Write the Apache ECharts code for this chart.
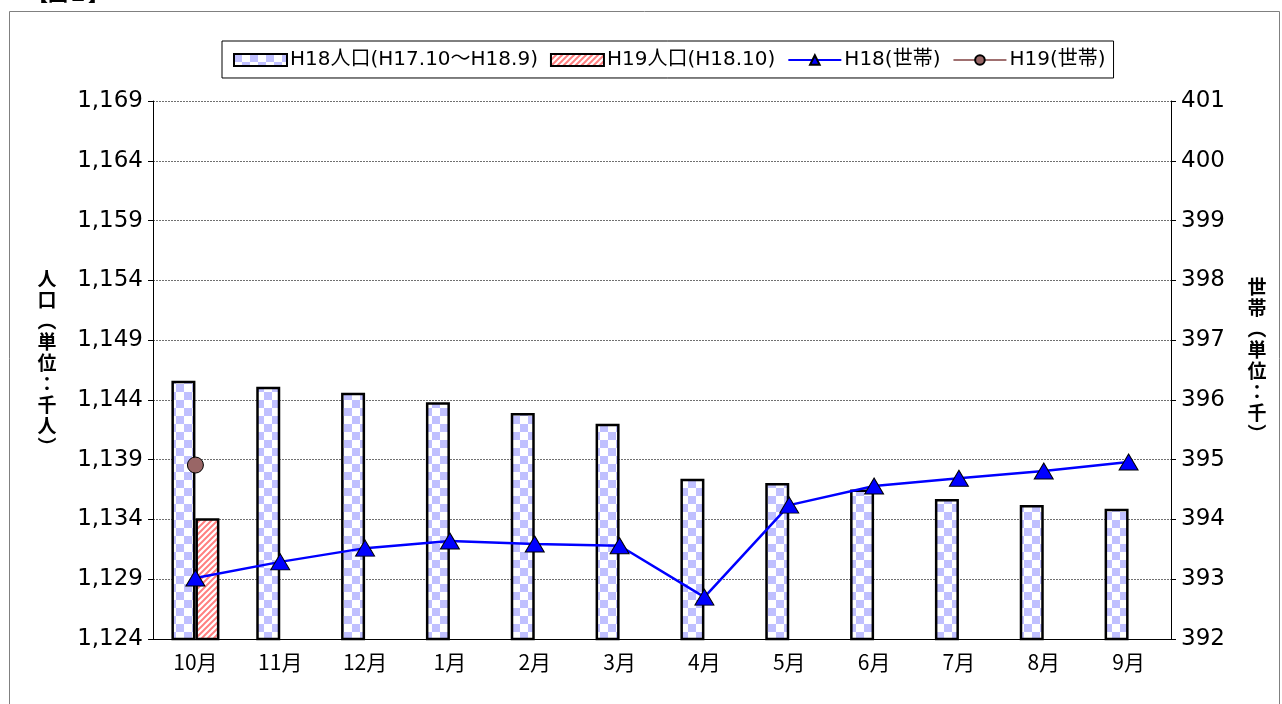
<!DOCTYPE html>
<html>
<head>
<meta charset="utf-8">
<script src="https://cdn.jsdelivr.net/npm/echarts@6/dist/echarts.min.js"></script>
<style>
html,body{margin:0;padding:0;background:#fff;}
#main{width:1282px;height:704px;}
</style>
</head>
<body>
<div id="main"></div>
<script>
var months = ['10月','11月','12月','1月','2月','3月','4月','5月','6月','7月','8月','9月'];
var popH18 = [1145.6, 1145.1, 1144.6, 1143.8, 1142.9, 1142.0, 1137.4, 1137.05, 1136.5, 1135.7, 1135.2, 1134.9];
var popH19 = [1134.1, null, null, null, null, null, null, null, null, null, null, null];
var hhH18 = [393.02, 393.29, 393.52, 393.64, 393.59, 393.56, 392.70, 394.24, 394.56, 394.69, 394.81, 394.96];
var hhH19 = [394.91, null, null, null, null, null, null, null, null, null, null, null];
var seriesNames = ['H18人口(H17.10～H18.9)', 'H19人口(H18.10)', 'H18(世帯)', 'H19(世帯)'];

//柄
function checker(){
    var c = document.createElement('canvas');
    c.width = 16; c.height = 16;
    var g = c.getContext('2d');
    g.fillStyle = '#ffffff';
    g.fillRect(0, 0, 16, 16);
    g.fillStyle = '#c0c0ff';
    g.fillRect(0, 0, 8, 8);
    g.fillRect(8, 8, 8, 8);
    return c;
}
function stripes(){
    var c = document.createElement('canvas');
    c.width = 6; c.height = 6;
    var g = c.getContext('2d');
    g.fillStyle = '#ffffff';
    g.fillRect(0, 0, 6, 6);
    g.strokeStyle = '#ff8080';
    g.lineWidth = 2;
    g.beginPath();
    g.moveTo(-1, 7); g.lineTo(7, -1);
    g.moveTo(-4, 4); g.lineTo(4, -4);
    g.moveTo(2, 10); g.lineTo(10, 2);
    g.stroke();
    return c;
}
function comma(v){
    return String(v).replace(/\B(?=(\d{3})+(?!\d))/g, ',');
}

var numFont = '"DejaVu Sans", "Noto Sans CJK JP", sans-serif';
var jpFont = '"Noto Sans CJK JP", sans-serif';

var chart = echarts.init(document.getElementById('main'));
var option = {
    backgroundColor: '#ffffff',
    animation: false,
    graphic: [
        {type: 'rect', shape: {x: 9.5, y: 11.5, width: 1270, height: 720}, style: {fill: null, stroke: '#808080', lineWidth: 1}},
        {type: 'text', left: 28, top: -17, style: {text: '【図１】', font: 'bold 20px "Noto Sans CJK JP"', fill: '#000'}},
        {type: 'text', x: 47, y: 363, style: {text: '人\n口\n︵\n単\n位\n：\n千\n人\n︶', font: 'bold 19px "Noto Sans CJK JP"', lineHeight: 21, align: 'center', verticalAlign: 'middle', fill: '#000'}},
        {type: 'text', x: 1257, y: 360, style: {text: '世\n帯\n︵\n単\n位\n：\n千\n︶', font: 'bold 19px "Noto Sans CJK JP"', lineHeight: 21, align: 'center', verticalAlign: 'middle', fill: '#000'}}
    ],
    legend: {
        left: 222,
        top: 41,
        padding: [9, 8, 8, 11],
        itemGap: 12,
        itemWidth: 53,
        itemHeight: 12,
        borderColor: '#000',
        borderWidth: 1,
        backgroundColor: '#fff',
        textStyle: {fontFamily: numFont, fontSize: 20, color: '#000', padding: [0, 0, 0, -2]},
        data: [
            {name: seriesNames[0], icon: 'rect'},
            {name: seriesNames[1], icon: 'rect'},
            {name: seriesNames[2]},
            {name: seriesNames[3]}
        ]
    },
    grid: {left: 153, right: 111, top: 101, bottom: 65},
    xAxis: {
        type: 'category',
        data: months,
        axisLine: {lineStyle: {color: '#000', width: 1}},
        axisTick: {show: false},
        axisLabel: {color: '#000', fontFamily: jpFont, fontSize: 21, margin: 13}
    },
    yAxis: [
        {
            type: 'value',
            min: 1124, max: 1169, interval: 5,
            axisLine: {show: true, lineStyle: {color: '#000'}},
            axisTick: {show: true, length: 5, lineStyle: {color: '#000'}},
            axisLabel: {color: '#000', fontFamily: numFont, fontSize: 23, margin: 10, formatter: comma},
            splitLine: {show: true, lineStyle: {color: '#707070', type: [2, 1], width: 1}}
        },
        {
            type: 'value',
            min: 392, max: 401, interval: 1,
            axisLine: {show: true, lineStyle: {color: '#000'}},
            axisTick: {show: true, length: 5, lineStyle: {color: '#000'}},
            axisLabel: {color: '#000', fontFamily: numFont, fontSize: 23, margin: 10},
            splitLine: {show: false}
        }
    ],
    series: [
        {
            name: seriesNames[0],
            type: 'bar',
            data: popH18,
            barWidth: 24,
            barGap: '0%',
            itemStyle: {color: {image: checker(), repeat: 'repeat'}, borderColor: '#000', borderWidth: 2.5}
        },
        {
            name: seriesNames[1],
            type: 'bar',
            data: popH19,
            barWidth: 24,
            barGap: '0%',
            itemStyle: {color: {image: stripes(), repeat: 'repeat'}, borderColor: '#000', borderWidth: 2.5}
        },
        {
            name: seriesNames[2],
            type: 'line',
            yAxisIndex: 1,
            data: hhH18,
            symbol: 'triangle',
            symbolSize: [19, 16],
            lineStyle: {color: '#0000ff', width: 2.5},
            itemStyle: {color: '#0000ff', borderColor: '#000', borderWidth: 1}
        },
        {
            name: seriesNames[3],
            type: 'line',
            yAxisIndex: 1,
            data: hhH19,
            symbol: 'circle',
            symbolSize: 16,
            lineStyle: {color: '#a07070', width: 2.5},
            itemStyle: {color: '#996666', borderColor: '#000', borderWidth: 1}
        }
    ]
};
chart.setOption(option);
</script>
</body>
</html>
